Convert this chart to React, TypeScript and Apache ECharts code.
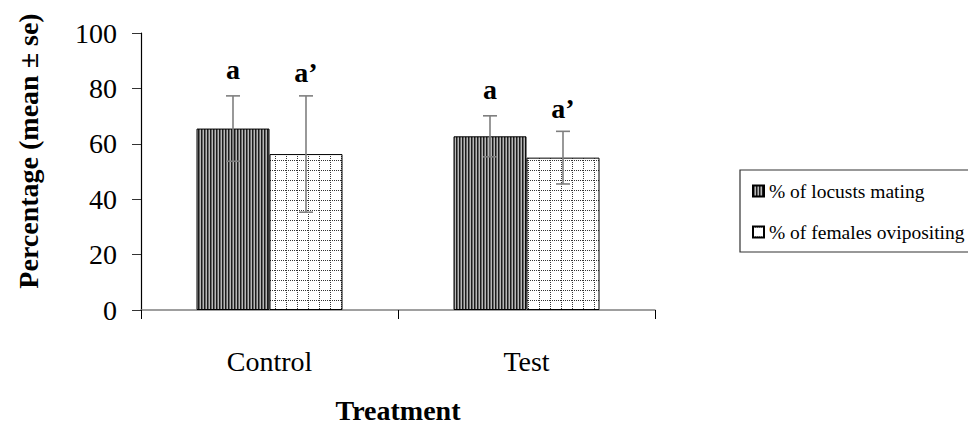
import React, { useEffect, useRef } from "react";
import * as echarts from "echarts";

// Treatment groups
const categories = ["Control", "Test"];
// Series labels
const seriesNames = ["% of locusts mating", "% of females ovipositing"];
// Means and standard errors (%)
const matingMean = [65.5, 62.7];
const matingSe = [11.8, 7.4];
const oviMean = [56.3, 55.0];
const oviSe = [21.0, 9.5];
// Significance letters above each bar
const matingLetters = ["a", "a"];
const oviLetters = ["a\u2019", "a\u2019"];
// Y axis range
const yMin = 0;
const yMax = 100;
const yStep = 20;

const FONT = "Liberation Serif";
const BAR_W = 73;

function stripePattern(): HTMLCanvasElement {
  const c = document.createElement("canvas");
  c.width = 3;
  c.height = 4;
  const g = c.getContext("2d")!;
  const cols = ["#1c1c1c", "#6a6a6a", "#b8b8b8"];
  cols.forEach((col, i) => {
    g.fillStyle = col;
    g.fillRect(i, 0, 1, 4);
  });
  return c;
}

function dottedGridPattern(): HTMLCanvasElement {
  const c = document.createElement("canvas");
  c.width = 11;
  c.height = 10;
  const g = c.getContext("2d")!;
  g.fillStyle = "#ffffff";
  g.fillRect(0, 0, 11, 10);
  g.fillStyle = "#333333";
  for (let x = 0; x < 11; x += 2) g.fillRect(x, 0, 1, 1);
  for (let y = 0; y < 10; y += 2) g.fillRect(0, y, 1, 1);
  return c;
}

function errorSeries(
  name: string,
  means: number[],
  ses: number[],
  letters: string[],
  offset: number,
  letterGap: number
) {
  return {
    type: "custom",
    name: name + " se",
    z: 5,
    silent: true,
    data: means.map((m, i) => [i, m, ses[i]]),
    encode: { x: 0, y: 1 },
    renderItem: (params: any, api: any) => {
      const i = api.value(0);
      const m = api.value(1);
      const s = api.value(2);
      const cx = api.coord([i, m])[0] + offset;
      const top = api.coord([i, m + s])[1];
      const bot = api.coord([i, m - s])[1];
      const half = 7;
      const line = { stroke: "#7f7f7f", lineWidth: 1.6 };
      return {
        type: "group",
        children: [
          { type: "line", shape: { x1: cx, y1: top, x2: cx, y2: bot }, style: line },
          { type: "line", shape: { x1: cx - half, y1: top, x2: cx + half, y2: top }, style: line },
          { type: "line", shape: { x1: cx - half, y1: bot, x2: cx + half, y2: bot }, style: line },
          {
            type: "text",
            x: cx,
            y: top - letterGap,
            style: {
              text: letters[params.dataIndex],
              font: `bold 28px ${FONT}`,
              fill: "#000",
              textAlign: "center",
              textVerticalAlign: "bottom",
            },
          },
        ],
      };
    },
  };
}

export default function App() {
  const ref = useRef<HTMLDivElement>(null);

  useEffect(() => {
    if (!ref.current) return;
    const chart = echarts.init(ref.current, null, { renderer: "svg" });
    const stripes = { image: stripePattern(), repeat: "repeat" };
    const grid = { image: dottedGridPattern(), repeat: "repeat" };

    chart.setOption({
      animation: false,
      backgroundColor: "#ffffff",
      grid: { left: 141, top: 33, width: 514, height: 277 },
      legend: {
        orient: "vertical",
        left: 752,
        top: 181,
        padding: 0,
        itemWidth: 11,
        itemHeight: 11,
        itemGap: 21,
        icon: "rect",
        data: seriesNames,
        textStyle: { fontFamily: FONT, fontSize: 19.5, color: "#000", padding: [0, 0, 0, 0] },
      },
      xAxis: {
        type: "category",
        data: categories,
        name: "Treatment",
        nameLocation: "middle",
        nameGap: 86,
        nameTextStyle: { fontFamily: FONT, fontSize: 28, fontWeight: "bold", color: "#000" },
        axisLine: { lineStyle: { color: "#808080", width: 1.5 } },
        axisTick: { show: true, length: 9, lineStyle: { color: "#000" } },
        axisLabel: { fontFamily: FONT, fontSize: 28, color: "#000", margin: 37 },
      },
      yAxis: {
        type: "value",
        min: yMin,
        max: yMax,
        interval: yStep,
        splitLine: { show: false },
        axisLine: { show: true, lineStyle: { color: "#000", width: 1.2 } },
        axisTick: { show: true, length: 9, lineStyle: { color: "#333" } },
        axisLabel: { fontFamily: FONT, fontSize: 28, color: "#000", margin: 24 },
      },
      graphic: [
        {
          type: "text",
          x: 28,
          y: 151,
          rotation: Math.PI / 2,
          style: {
            text: "Percentage (mean \u00b1 se)",
            font: `bold 28px ${FONT}`,
            fill: "#000",
            textAlign: "center",
            textVerticalAlign: "middle",
          },
        },
        {
          type: "rect",
          shape: { x: 740, y: 170, width: 240, height: 82 },
          style: { fill: "none", stroke: "#333", lineWidth: 1.2 },
          z: 10,
        },
      ],
      series: [
        {
          type: "bar",
          name: seriesNames[0],
          data: matingMean,
          barWidth: BAR_W,
          barGap: "0%",
          itemStyle: { color: stripes, borderColor: "#000", borderWidth: 1 },
        },
        {
          type: "bar",
          name: seriesNames[1],
          data: oviMean,
          barWidth: BAR_W,
          barGap: "0%",
          itemStyle: { color: grid, borderColor: "#000", borderWidth: 1 },
        },
        errorSeries(seriesNames[0], matingMean, matingSe, matingLetters, -BAR_W / 2, 12),
        errorSeries(seriesNames[1], oviMean, oviSe, oviLetters, BAR_W / 2, 9),
      ],
    });
    return () => chart.dispose();
  }, []);

  return (
    <div
      ref={ref}
      style={{ position: "fixed", left: 0, top: 0, width: 968, height: 430 }}
    />
  );
}
